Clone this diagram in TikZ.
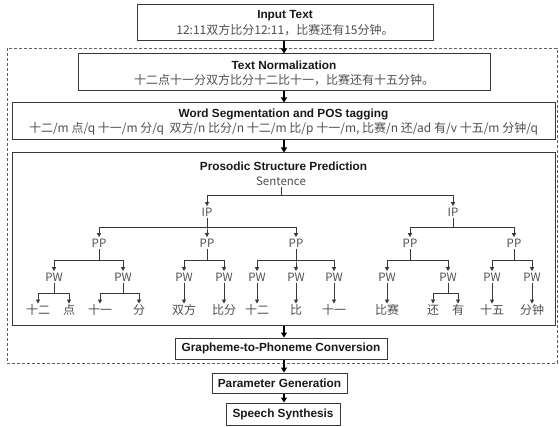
\documentclass[tikz,border=0pt]{standalone}
\usepackage{fontspec}
\setmainfont{Noto Sans CJK SC}
\newfontfamily\titlefont{Liberation Sans}
\usetikzlibrary{arrows.meta}
\definecolor{boxc}{HTML}{383838}
\definecolor{txtc}{HTML}{505050}
\definecolor{dashc}{HTML}{606060}
\begin{document}
\begin{tikzpicture}[x=1pt,y=-1pt,
  box/.style={draw=boxc,line width=1pt,fill=white,inner sep=0pt},
  ttl/.style={font=\titlefont\bfseries\fontsize{11.8}{13}\selectfont,text=black!90,inner sep=0pt},
  cn/.style={font=\fontsize{12}{13}\selectfont,text=txtc,inner sep=0pt},
  lab/.style={font=\fontsize{11.5}{12}\selectfont,text=txtc,inner sep=1.5pt,text height=8.3pt,text depth=0pt},
  leaf/.style={font=\fontsize{12}{13}\selectfont,text=txtc,inner sep=1.5pt,text height=9.5pt,text depth=1pt},
  mainarr/.style={draw=black,line width=1.2pt,-{Triangle[width=6pt,length=5pt]}},
  tarr/.style={draw=boxc,line width=0.9pt,-{Triangle[width=4pt,length=4pt]}},
  dashbox/.style={draw=dashc,line width=0.9pt,dash pattern=on 3pt off 2pt}
]
\useasboundingbox (0,0) rectangle (559,427);
\coordinate (axis) at (284,0);
% dashed stage frame
\draw[dashbox] (7,48) rectangle (557,363);
% boxes
\node[box,minimum width=296pt,minimum height=36pt] (input) at (285,23) {};
\node[ttl] (inputT) at (285,15.5) {Input Text};
\node[cn] (inputC) at (285,30.5) {12:11双方比分12:11，比赛还有15分钟。};
\node[box,minimum width=412pt,minimum height=37pt] (norm) at (284,72.5) {};
\node[ttl] (normT) at (284,65) {Text Normalization};
\node[cn] (normC) at (284,80) {十二点十一分双方比分十二比十一，比赛还有十五分钟。};
\node[box,minimum width=543pt,minimum height=37pt] (seg) at (283.5,121.5) {};
\node[ttl] (segT) at (283.5,114) {Word Segmentation and POS tagging};
\node[cn] (segC) at (283.5,129) {十二/m 点/q 十一/m 分/q \ 双方/n 比分/n 十二/m 比/p 十一/m, 比赛/n 还/ad 有/v 十五/m 分钟/q};
\node[box,minimum width=543pt,minimum height=172pt] (pros) at (283.5,239) {};
\node[ttl] (prosT) at (283.5,166.5) {Prosodic Structure Prediction};
\node[box,minimum width=212pt,minimum height=21pt] (g2p) at (281,348.5) {};
\node[ttl] (g2pT) at (g2p) {Grapheme-to-Phoneme Conversion};
\node[box,minimum width=135pt,minimum height=20pt] (param) at (279.5,383) {};
\node[ttl] (paramT) at (param) {Parameter Generation};
\node[box,minimum width=114pt,minimum height=22pt] (speech) at (283,414) {};
\node[ttl] (speechT) at (speech) {Speech Synthesis};
% main arrows
\draw[mainarr] (input.south -| axis) -- (norm.north -| axis);
\draw[mainarr] (norm.south -| axis) -- (seg.north -| axis);
\draw[mainarr] (seg.south -| axis) -- (pros.north -| axis);
\draw[mainarr] (pros.south -| axis) -- (g2p.north -| axis);
\draw[mainarr] (g2p.south -| axis) -- (param.north -| axis);
\draw[mainarr] (param.south -| axis) -- (speech.north -| axis);
% tree nodes
\node[lab] (S) at (281,181) {Sentence};
\node[lab] (ip1) at (207,212) {IP};
\node[lab] (ip2) at (453,212) {IP};
\foreach \n/\x in {pp1/99,pp2/207,pp3/296,pp4/410,pp5/514}
  \node[lab] (\n) at (\x,243) {PP};
\foreach \n/\x in {pw1/54,pw2/123,pw3/184,pw4/224,pw5/257,pw6/296,pw7/334,pw8/387,pw9/448,pw10/492,pw11/532}
  \node[lab] (\n) at (\x,277) {PW};
\foreach \n/\x/\t in {l1/38/十二,l2/69/点,l3/100/十一,l4/139/分,l5/184/双方,l6/224/比分,l7/257/十二,l8/296/比,l9/334/十一,l10/387/比赛,l11/433/还,l12/458/有,l13/492/十五,l14/532/分钟}
  \node[leaf] (\n) at (\x,310.5) {\t};
% tree edges
\foreach \c in {ip1,ip2}
  \draw[tarr] (S.south) -- (S.south |- 0,195) -| (\c.north);
\foreach \c in {pp1,pp2,pp3}
  \draw[tarr] (ip1.south) -- (ip1.south |- 0,227) -| (\c.north);
\foreach \c in {pp4,pp5}
  \draw[tarr] (ip2.south) -- (ip2.south |- 0,227) -| (\c.north);
\foreach \p/\c in {pp1/pw1,pp1/pw2,pp2/pw3,pp2/pw4,pp3/pw5,pp3/pw6,pp3/pw7,pp4/pw8,pp4/pw9,pp5/pw10,pp5/pw11}
  \draw[tarr] (\p.south) -- (\p.south |- 0,260) -| (\c.north);
\foreach \p/\c in {pw1/l1,pw1/l2,pw2/l3,pw2/l4,pw9/l11,pw9/l12}
  \draw[tarr] (\p.south) -- (\p.south |- 0,293) -| (\c.north);
\foreach \p/\c in {pw3/l5,pw4/l6,pw5/l7,pw6/l8,pw7/l9,pw8/l10,pw10/l13,pw11/l14}
  \draw[tarr] (\p.south) -- (\c.north);
\end{tikzpicture}
\end{document}
